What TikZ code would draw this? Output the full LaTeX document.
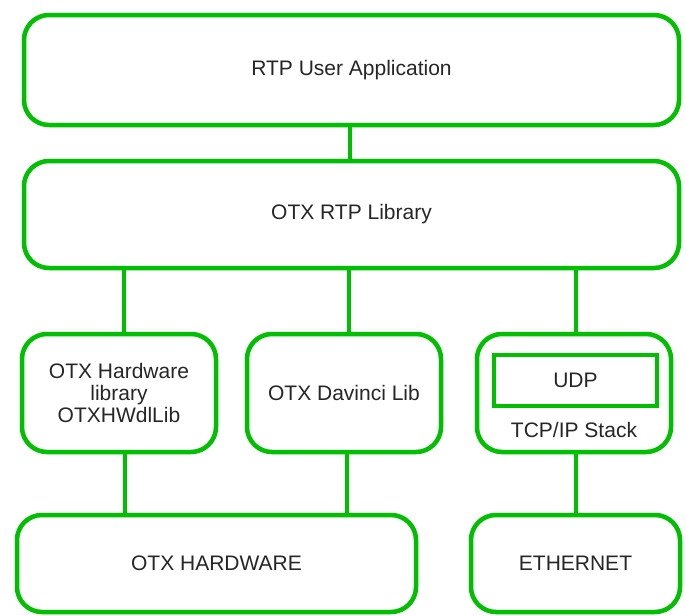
\documentclass[tikz,border=0pt]{standalone}
\usepackage{fontspec}
\setmainfont{Liberation Sans}
\definecolor{boxgreen}{RGB}{0,190,0}
\begin{document}
\begin{tikzpicture}[x=1pt,y=-1pt,
  layer/.style={draw=boxgreen, line width=4.5pt, rounded corners=25pt, fill=white,
    inner sep=0pt, outer sep=0pt, align=center, text=black!85,
    font=\fontsize{21}{22}\selectfont},
  inbox/.style={draw=boxgreen, line width=4.5pt, inner sep=0pt, outer sep=0pt,
    text=black!85, font=\fontsize{21}{22}\selectfont},
  lbl/.style={inner sep=0pt, text=black!85, font=\fontsize{21}{22}\selectfont},
  link/.style={draw=boxgreen, line width=4.5pt}]
\useasboundingbox (0,0) rectangle (686,616);
\node[layer, minimum width=655pt, minimum height=110pt] (app) at (351.5,70) {RTP User Application};
\node[layer, minimum width=655pt, minimum height=107pt] (lib) at (351.5,214.5) {OTX RTP Library};
\node[layer, minimum width=194pt, minimum height=118pt] (hw) at (119,393) {OTX Hardware\\library\\OTXHWdlLib};
\node[layer, minimum width=194pt, minimum height=118pt] (dav) at (344,393) {OTX Davinci Lib};
\node[layer, minimum width=194pt, minimum height=118pt] (tcp) at (574,393) {};
\node[inbox, minimum width=163pt, minimum height=51pt] (udp) at (575.5,380.5) {UDP};
\node[lbl] (tcplbl) at (574,430) {TCP/IP Stack};
\node[layer, minimum width=399pt, minimum height=97pt] (otxhw) at (216.5,563.5) {OTX HARDWARE};
\node[layer, minimum width=209pt, minimum height=97pt] (eth) at (575.5,563.5) {ETHERNET};
\coordinate (c1) at (350,0);
\coordinate (c2) at (124,0);
\coordinate (c3) at (349,0);
\coordinate (c4) at (576,0);
\coordinate (c5) at (125,0);
\coordinate (c6) at (347,0);
\draw[link] (c1 |- app.south) -- (c1 |- lib.north);
\draw[link] (c2 |- lib.south) -- (c2 |- hw.north);
\draw[link] (c3 |- lib.south) -- (c3 |- dav.north);
\draw[link] (c4 |- lib.south) -- (c4 |- tcp.north);
\draw[link] (c5 |- hw.south) -- (c5 |- otxhw.north);
\draw[link] (c6 |- dav.south) -- (c6 |- otxhw.north);
\draw[link] (c4 |- tcp.south) -- (c4 |- eth.north);
\end{tikzpicture}
\end{document}
